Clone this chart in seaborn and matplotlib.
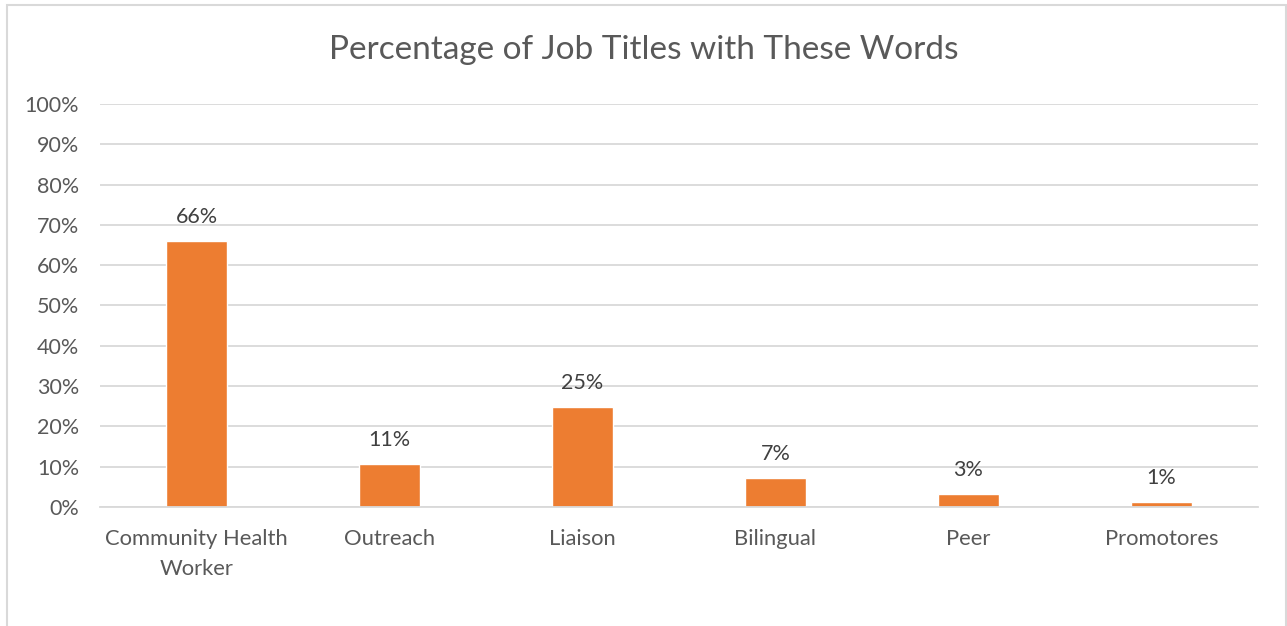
import matplotlib
matplotlib.use("Agg")
import matplotlib.pyplot as plt
import matplotlib.patches as mpatches
from matplotlib.ticker import PercentFormatter, MultipleLocator
import seaborn as sns
import pandas as pd

categories = ["Community Health\nWorker", "Outreach", "Liaison", "Bilingual", "Peer", "Promotores"]
values = [0.66, 0.107, 0.248, 0.072, 0.032, 0.012]
value_labels = ["66%", "11%", "25%", "7%", "3%", "1%"]
title = "Percentage of Job Titles with These Words"

sns.set_theme(style="white")
plt.rcParams['font.family'] = ['Lato', 'DejaVu Sans']

W, H = 1287, 626
fig = plt.figure(figsize=(W / 100, H / 100), dpi=100)
ax = fig.add_axes([100 / W, 1 - 507 / H, (1258 - 100) / W, (507 - 104) / H])

df = pd.DataFrame({"cat": categories, "val": values})
sns.barplot(data=df, x="cat", y="val", color="#ED7D31", width=0.316, ax=ax, saturation=1)

ax.set_ylim(0, 1.0)
ax.set_xlim(-0.5, len(categories) - 0.5)
ax.yaxis.set_major_locator(MultipleLocator(0.1))
ax.yaxis.set_major_formatter(PercentFormatter(1.0, decimals=0))
ax.grid(axis="y", color="#D9D9D9", linewidth=1.3)
ax.set_axisbelow(True)
for s in ["top", "right", "left"]:
    ax.spines[s].set_visible(False)
ax.spines["bottom"].set_color("#D9D9D9")
ax.spines["bottom"].set_linewidth(1.3)
ax.set_xlabel("")
ax.set_ylabel("")
ax.tick_params(axis="y", length=0, pad=15, labelsize=15.5, labelcolor="#595959")
ax.tick_params(axis="x", length=0, pad=16, labelsize=15.8, labelcolor="#595959")
for lbl in ax.get_xticklabels():
    lbl.set_linespacing(1.6)

for i, (v, t) in enumerate(zip(values, value_labels)):
    ax.annotate(t, xy=(i, v), xytext=(0, 17.5), textcoords="offset points",
                ha="center", va="center", fontsize=15.5, color="#404040")

fig.text(0.5, 1 - 50 / H, title, ha="center", va="center", fontsize=24, color="#595959")

rect = mpatches.Rectangle((6.5 / W, -0.05), (1285.5 - 6.5) / W, 1.05 - 5.5 / H,
                          transform=fig.transFigure, fill=False, edgecolor="#D9D9D9",
                          linewidth=1.5, clip_on=False)
fig.patches.append(rect)

fig.savefig("out.png", dpi=100, facecolor="white")
